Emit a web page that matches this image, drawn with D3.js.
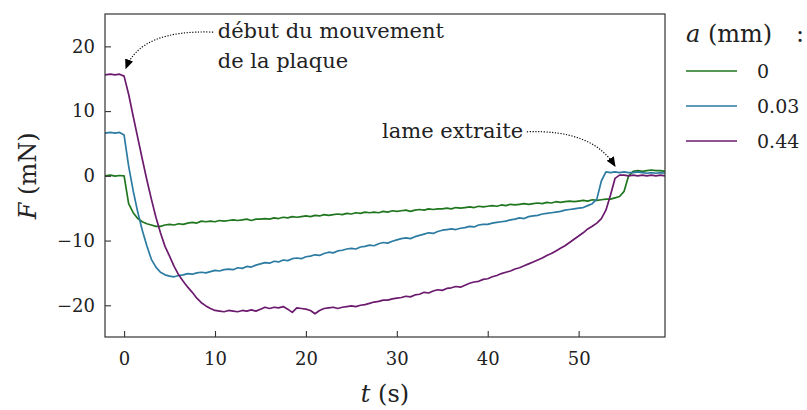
<!DOCTYPE html>
<html>
    <head>
        <title>Force vs time</title>
        <script src="https://d3js.org/d3.v7.min.js"></script>
        <meta charset="UTF-8">
        <style>
            body { margin: 0; background: #fff; }
            text { font-family: "DejaVu Serif", serif; fill: #222; }
        </style>
    </head>
    <body>
        <script>
            var w = 807;
            var h = 410;
            var margin = {top: 14, right: 142, bottom: 73, left: 105};
            var font = "DejaVu Serif";

            // time grid (s), one value every 0.5 s
            var time = [-2.1].concat(d3.range(-1.5, 59.51, 0.5));

            // F (mN)
            var forceA0 = [0.0, 0.1, -0.05, 0.05,
                0.0, -4.3, -5.7, -6.6, -7.1, -7.4, -7.6, -7.8, -7.8, -7.6,
                -7.5, -7.6, -7.4, -7.5, -7.3, -7.2, -7.3, -7.0, -7.1, -7.0,
                -7.1, -6.9, -7.0, -6.9, -6.8, -6.9, -6.8, -6.7, -6.9, -6.7,
                -6.7, -6.6, -6.7, -6.5, -6.6, -6.4, -6.5, -6.3, -6.4, -6.3,
                -6.2, -6.3, -6.1, -6.2, -6.0, -6.1, -6.0, -5.9, -6.0, -5.8,
                -5.9, -5.7, -5.8, -5.6, -5.7, -5.6, -5.7, -5.5, -5.6, -5.4,
                -5.5, -5.4, -5.3, -5.5, -5.3, -5.2, -5.3, -5.1, -5.2, -5.1,
                -5.1, -5.0, -5.1, -4.9, -5.0, -4.9, -4.8, -4.9, -4.7, -4.8,
                -4.7, -4.6, -4.7, -4.5, -4.6, -4.4, -4.5, -4.4, -4.3, -4.4,
                -4.3, -4.2, -4.3, -4.1, -4.2, -4.0, -4.1, -4.0, -3.9, -4.0,
                -3.9, -3.8, -3.9, -3.7, -3.8, -3.7, -3.6, -3.6, -3.4, -3.2,
                -2.4, 0.0, 0.7, 0.8, 0.7, 0.8, 0.9, 0.8, 0.8, 0.7];

            var forceA003 = [6.6, 6.7, 6.6, 6.7,
                6.3, 1.5, -2.3, -5.6, -8.4, -10.8, -12.9, -14.1, -14.9, -15.3,
                -15.5, -15.6, -15.4, -15.3, -15.1, -15.2, -15.0, -14.9, -15.0, -14.8,
                -14.6, -14.7, -14.5, -14.4, -14.5, -14.2, -14.3, -14.0, -14.1, -13.8,
                -13.6, -13.4, -13.5, -13.2, -13.3, -13.0, -13.1, -12.8, -12.7, -12.8,
                -12.5, -12.4, -12.2, -12.3, -12.0, -11.8, -11.9, -11.6, -11.5, -11.3,
                -11.2, -11.3, -11.0, -10.9, -10.7, -10.8, -10.5, -10.3, -10.4, -10.1,
                -9.9, -9.7, -9.6, -9.7, -9.4, -9.2, -9.0, -8.8, -8.9, -8.6,
                -8.4, -8.3, -8.2, -8.3, -8.1, -8.0, -7.8, -7.9, -7.6, -7.5,
                -7.5, -7.3, -7.2, -7.1, -7.0, -6.8, -6.7, -6.5, -6.6, -6.3,
                -6.2, -6.1, -5.9, -5.8, -5.7, -5.6, -5.5, -5.3, -5.2, -5.1,
                -5.0, -4.9, -4.6, -4.3, -3.6, -0.8, 0.6, 0.5, 0.6, 0.5,
                0.6, 0.5, 0.5, 0.6, 0.5, 0.4, 0.5, 0.4, 0.5, 0.4];

            var forceA044 = [15.6, 15.7, 15.6, 15.7,
                15.4, 12.6, 9.2, 5.9, 2.6, -0.6, -3.6, -6.4, -8.8, -10.9,
                -12.4, -14.0, -15.3, -16.3, -17.2, -18.0, -18.9, -19.6, -20.1, -20.5,
                -20.8, -20.9, -21.0, -20.8, -20.9, -21.0, -20.8, -20.9, -20.7, -20.9,
                -20.6, -20.3, -20.5, -20.3, -20.4, -20.2, -20.6, -21.1, -20.4, -20.5,
                -20.6, -20.8, -21.3, -20.8, -20.5, -20.4, -20.3, -20.5, -20.3, -20.2,
                -20.1, -20.2, -20.0, -19.9, -19.7, -19.5, -19.4, -19.2, -19.2, -19.0,
                -18.9, -18.8, -18.6, -18.7, -18.4, -18.3, -18.0, -18.1, -17.8, -17.6,
                -17.7, -17.4, -17.3, -17.1, -17.2, -16.9, -16.6, -16.4, -16.3, -16.0,
                -15.9, -15.6, -15.4, -15.1, -14.9, -14.7, -14.4, -14.2, -13.9, -13.6,
                -13.3, -13.0, -12.7, -12.3, -12.0, -11.6, -11.2, -10.8, -10.3, -9.8,
                -9.3, -8.8, -8.2, -7.8, -7.3, -6.6, -5.3, -3.0, -0.4, 0.1,
                0.1, 0.0, 0.1, 0.0, 0.1, 0.0, 0.1, 0.0, 0.1, 0.0];

            var seriesLabels = ["0", "0.03", "0.44"];
            var seriesColors = ["#1f761f", "#2b7ba2", "#6b1a6e"];
            var xTicks = [0, 10, 20, 30, 40, 50];
            var yTicks = [-20, -10, 0, 10, 20];

            var series = [forceA0, forceA003, forceA044].map(function (vals, i) {
                return {
                    label: seriesLabels[i],
                    color: seriesColors[i],
                    points: vals.map(function (v, j) { return [time[j], v]; })
                };
            });

            var x = d3.scaleLinear()
                    .domain([-2.1, 59.5])
                    .range([margin.left, w - margin.right]);
            var y = d3.scaleLinear()
                    .domain([-24.9, 25])
                    .range([h - margin.bottom, margin.top]);

            var svg = d3.select("body")
                    .append("svg")
                    .attr("width", w)
                    .attr("height", h);

            // arrow head marker
            svg.append("defs").append("marker")
                    .attr("id", "head")
                    .attr("viewBox", "0 0 10 10")
                    .attr("refX", 9)
                    .attr("refY", 5)
                    .attr("markerWidth", 10)
                    .attr("markerHeight", 10)
                    .attr("markerUnits", "userSpaceOnUse")
                    .attr("orient", "auto")
                    .append("path")
                    .attr("d", "M0,0.8 L10,5 L0,9.2 Z")
                    .attr("fill", "#000");

            // curves
            var line = d3.line()
                    .x(function (d) { return x(d[0]); })
                    .y(function (d) { return y(d[1]); });

            svg.append("g")
                    .selectAll("path")
                    .data(series)
                    .enter()
                    .append("path")
                    .attr("d", function (d) { return line(d.points); })
                    .attr("fill", "none")
                    .attr("stroke", function (d) { return d.color; })
                    .attr("stroke-width", 1.7)
                    .attr("stroke-linejoin", "round");

            // axes, ticks pointing inward
            var xAxis = svg.append("g")
                    .attr("transform", "translate(0," + (h - margin.bottom) + ")")
                    .call(d3.axisBottom(x).tickValues(xTicks).tickSize(-6).tickPadding(15));
            var yAxis = svg.append("g")
                    .attr("transform", "translate(" + margin.left + ",0)")
                    .call(d3.axisLeft(y).tickValues(yTicks).tickSize(-6).tickPadding(10));

            [xAxis, yAxis].forEach(function (g) {
                g.attr("font-family", font);
                g.select(".domain").remove();
                g.selectAll(".tick line").attr("stroke", "#333").attr("stroke-width", 1.1);
                g.selectAll(".tick text")
                        .attr("font-size", 18)
                        .attr("fill", "#222");
            });

            svg.append("rect")
                    .attr("x", margin.left)
                    .attr("y", margin.top)
                    .attr("width", w - margin.left - margin.right)
                    .attr("height", h - margin.top - margin.bottom)
                    .attr("fill", "none")
                    .attr("stroke", "#333")
                    .attr("stroke-width", 1.2);

            // axis titles
            var xTitle = svg.append("text")
                    .attr("x", 385)
                    .attr("y", 402)
                    .attr("text-anchor", "middle")
                    .attr("font-size", 24);
            xTitle.append("tspan").attr("font-style", "italic").text("t");
            xTitle.append("tspan").text(" (s)");

            var yTitle = svg.append("text")
                    .attr("transform", "translate(36," + y(0) + ") rotate(-90)")
                    .attr("text-anchor", "middle")
                    .attr("font-size", 24);
            yTitle.append("tspan").attr("font-style", "italic").text("F");
            yTitle.append("tspan").text(" (mN)");

            // annotations (anchored in data units)
            var notes = [
                {lines: ["début du mouvement", "de la plaque"], text: [10.3, 21.3], anchor: "start",
                    from: [9.8, 22.2], ctrl: [1.8, 22.6], to: [0.2, 16.6]},
                {lines: ["lame extraite"], text: [43.9, 5.8], anchor: "end",
                    from: [44.3, 6.8], ctrl: [51.5, 7.2], to: [54.0, 1.5]}
            ];

            notes.forEach(function (n) {
                var t = svg.append("text")
                        .attr("x", x(n.text[0]))
                        .attr("y", y(n.text[1]))
                        .attr("text-anchor", n.anchor)
                        .attr("font-size", 21);
                n.lines.forEach(function (s, i) {
                    t.append("tspan")
                            .attr("x", x(n.text[0]))
                            .attr("dy", i === 0 ? 0 : 30)
                            .text(s);
                });
                var p = d3.path();
                p.moveTo(x(n.from[0]), y(n.from[1]));
                p.quadraticCurveTo(x(n.ctrl[0]), y(n.ctrl[1]), x(n.to[0]), y(n.to[1]));
                svg.append("path")
                        .attr("d", p.toString())
                        .attr("fill", "none")
                        .attr("stroke", "#000")
                        .attr("stroke-width", 1.2)
                        .attr("stroke-dasharray", "1.2,1.6")
                        .attr("marker-end", "url(#head)");
            });

            // legend
            var legend = svg.append("g").attr("transform", "translate(686,0)");
            var lt = legend.append("text").attr("x", 0).attr("y", 42).attr("font-size", 24);
            lt.append("tspan").attr("font-style", "italic").text("a");
            lt.append("tspan").text(" (mm)");
            legend.append("text").attr("x", 110).attr("y", 42).attr("font-size", 24).text(":");

            var rows = legend.selectAll("g.row")
                    .data(series)
                    .enter()
                    .append("g")
                    .attr("class", "row")
                    .attr("transform", function (d, i) { return "translate(0," + (71 + i * 35) + ")"; });
            rows.append("line")
                    .attr("x1", 0)
                    .attr("x2", 51)
                    .attr("stroke", function (d) { return d.color; })
                    .attr("stroke-width", 1.7);
            rows.append("text")
                    .attr("x", 71)
                    .attr("dy", "0.35em")
                    .attr("font-size", 19)
                    .text(function (d) { return d.label; });
        </script>
    </body>
</html>
